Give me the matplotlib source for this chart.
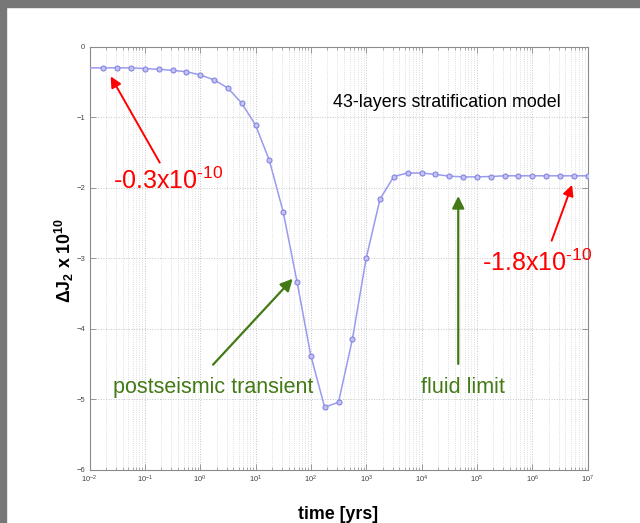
import numpy as np
import matplotlib
matplotlib.use("Agg")
import matplotlib.pyplot as plt
from matplotlib.patches import Rectangle
from matplotlib.ticker import LogLocator, NullFormatter, FixedLocator

# ---- data ----
log_time = [-2.0, -1.75, -1.5, -1.25, -1.0, -0.75, -0.5, -0.25,
            0.0, 0.25, 0.5, 0.75, 1.0, 1.25, 1.5, 1.75,
            2.0, 2.25, 2.5, 2.75, 3.0, 3.25, 3.5, 3.75,
            4.0, 4.25, 4.5, 4.75, 5.0, 5.25, 5.5, 5.75,
            6.0, 6.25, 6.5, 6.75, 7.0]
delta_j2 = [-0.30, -0.30, -0.30, -0.30, -0.31, -0.32, -0.335, -0.355,
            -0.40, -0.47, -0.585, -0.80, -1.11, -1.61, -2.34, -3.33,
            -4.38, -5.11, -5.04, -4.15, -3.00, -2.16, -1.84, -1.79,
            -1.79, -1.81, -1.835, -1.845, -1.845, -1.84, -1.83, -1.83,
            -1.83, -1.83, -1.83, -1.83, -1.83]
y_ticks = [0, -1, -2, -3, -4, -5, -6]
time = [10.0 ** v for v in log_time]

plt.rcParams['mathtext.fontset'] = 'custom'
plt.rcParams['mathtext.rm'] = 'Liberation Sans'
plt.rcParams['mathtext.bf'] = 'Liberation Sans:bold'
plt.rcParams['mathtext.it'] = 'Liberation Sans:italic'
plt.rcParams['font.family'] = ['Liberation Sans', 'DejaVu Sans']

fig = plt.figure(figsize=(6.4, 5.23), dpi=100)
fig.patch.set_facecolor('white')
# grey frame at top and left
fig.patches.append(Rectangle((0, 1 - 7 / 523), 1, 7 / 523, transform=fig.transFigure,
                             color='#777777', zorder=0))
fig.patches.append(Rectangle((0, 0), 6 / 640, 1, transform=fig.transFigure,
                             color='#777777', zorder=0))

ax = fig.add_axes([89.5 / 640, 1 - 470 / 523, (587.5 - 89.5) / 640, (470 - 46.7) / 523])
ax.set_xscale('log')
ax.set_xlim(1e-2, 1e7)
ax.set_ylim(-6, 0)

ax.plot(time, delta_j2, color='#9a9aee', lw=1.1, marker='o', ms=3.6,
        mfc='#c2c2f4', mec='#8585e0', mew=0.8, markevery=slice(1, None), zorder=3)

ax.yaxis.set_major_locator(FixedLocator(y_ticks))
ax.xaxis.set_major_locator(LogLocator(base=10, numticks=20))
ax.xaxis.set_minor_locator(LogLocator(base=10, subs=np.arange(2, 10), numticks=20))
ax.xaxis.set_minor_formatter(NullFormatter())

ax.grid(True, which='major', axis='both', linestyle=':', color='#c4c4c4', lw=0.7)
ax.grid(True, which='minor', axis='x', linestyle=':', color='#d4d4d4', lw=0.6)

for s in ax.spines.values():
    s.set_color('#8a8a8a')
    s.set_linewidth(0.8)
ax.tick_params(which='both', direction='in', top=True, right=True, colors='#8a8a8a',
               labelcolor='#444444', labelsize=5.5)
ax.tick_params(which='major', length=4, width=0.6, pad=3)
ax.tick_params(which='minor', length=2, width=0.5)

ax.set_xlabel('time [yrs]', fontsize=12.8, fontweight='bold')
ax.xaxis.set_label_coords(0.5, -0.086)
ax.set_ylabel(r'$\mathbf{\Delta J_2\ x\ 10^{10}}$', fontsize=12.8)
ax.yaxis.set_label_coords(-0.027, 0.494)

# annotations
ax.text(10 ** 2.402, -0.85, '43-layers stratification model', fontsize=12.9,
        color='black', va='baseline', ha='left')

red = '#ff0000'
ax.annotate('', xy=(10 ** -1.642, -0.387), xytext=(10 ** -0.706, -1.677),
            arrowprops=dict(arrowstyle='-|>', color=red, lw=1.4, mutation_scale=16))
ax.text(10 ** -1.58, -2.02, r'-0.3x10$^{\text{-10}}$', fontsize=18, color=red,
        va='baseline', ha='left')
ax.annotate('', xy=(10 ** 6.738, -1.922), xytext=(10 ** 6.335, -2.787),
            arrowprops=dict(arrowstyle='-|>', color=red, lw=1.4, mutation_scale=16))
ax.text(10 ** 5.099, -3.175, r'-1.8x10$^{\text{-10}}$', fontsize=18, color=red,
        va='baseline', ha='left')

green = '#437a16'
ax.annotate('', xy=(10 ** 1.707, -3.26), xytext=(10 ** 0.199, -4.536),
            arrowprops=dict(arrowstyle='-|>', color=green, lw=1.6, mutation_scale=18))
ax.text(10 ** -1.58, -4.913, 'postseismic transient', fontsize=15.5, color=green,
        va='baseline', ha='left')
ax.annotate('', xy=(10 ** 4.664, -2.078), xytext=(10 ** 4.664, -4.536),
            arrowprops=dict(arrowstyle='-|>', color=green, lw=1.6, mutation_scale=18))
ax.text(10 ** 3.982, -4.913, 'fluid limit', fontsize=15.5, color=green,
        va='baseline', ha='left')

fig.savefig('out.png', dpi=100, facecolor='white')
